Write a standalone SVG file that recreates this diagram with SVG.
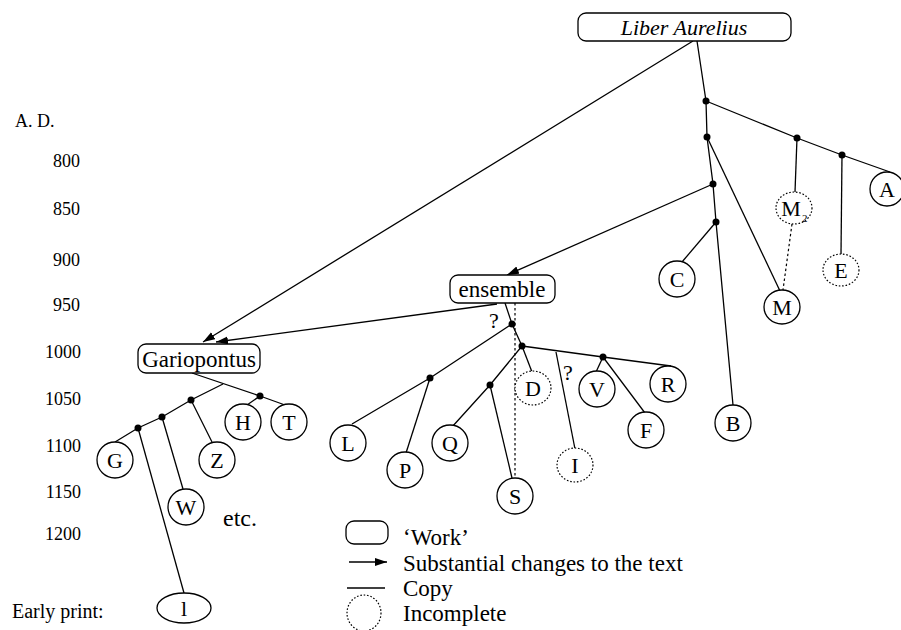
<svg xmlns="http://www.w3.org/2000/svg" width="901" height="630" viewBox="0 0 901 630" font-family="'Liberation Serif', 'DejaVu Serif', serif">
<style>
text{font-family:'Liberation Serif','DejaVu Serif',serif;fill:#000}
.n{font-size:22px;text-anchor:middle}
.ax{font-size:18px;text-anchor:end}
.lg{font-size:23px}
.c{fill:#fff;stroke:#000;stroke-width:1.3}
.d{fill:#fff;stroke:#000;stroke-width:1.2;stroke-dasharray:1.6 1.8}
.w{fill:#fff;stroke:#000;stroke-width:1.3}
.e line,.e polyline{stroke:#000;stroke-width:1.3;fill:none}
.e .dl{stroke-dasharray:2.5 2.5;stroke-width:1.2}
.dot{fill:#000}
</style>
<defs>
<marker id="ah" markerUnits="userSpaceOnUse" markerWidth="13" markerHeight="9" refX="12" refY="4" orient="auto">
<path d="M0,0 L12,4 L0,8 z" fill="#000"/>
</marker>
</defs>
<g id="axis">
<text x="15" y="127" style="font-size:18px">A. D.</text>
<text class="ax" x="80" y="167">800</text>
<text class="ax" x="80" y="215">850</text>
<text class="ax" x="80" y="266">900</text>
<text class="ax" x="80" y="311">950</text>
<text class="ax" x="81" y="358">1000</text>
<text class="ax" x="81" y="405">1050</text>
<text class="ax" x="81" y="452">1100</text>
<text class="ax" x="81" y="498">1150</text>
<text class="ax" x="81" y="540">1200</text>
<text x="12" y="618" style="font-size:20px">Early print:</text>
</g>
<g id="connectors" class="e">
<polyline points="697,41 706,101 707,137 713,184 716,222 733,405"/>
<polyline points="706,101 797,138 842,155 890,172"/>
<line x1="797" y1="138" x2="795" y2="192"/>
<line x1="842" y1="155" x2="841" y2="254"/>
<line x1="707" y1="137" x2="780" y2="291"/>
<line class="dl" x1="792" y1="224" x2="783" y2="290"/>
<line x1="713" y1="184" x2="507" y2="275" marker-end="url(#ah)"/>
<line x1="716" y1="222" x2="682" y2="262"/>
<line x1="693" y1="41" x2="203" y2="342" marker-end="url(#ah)"/>
<line x1="497" y1="304" x2="216" y2="342" marker-end="url(#ah)"/>
<polyline points="505,303 512,324 522,346"/>
<line class="dl" x1="515" y1="303" x2="515" y2="478"/>
<polyline points="512,324 430,378 352,424"/>
<line x1="430" y1="378" x2="406" y2="453"/>
<polyline points="522,346 490,385 452,427"/>
<line x1="490" y1="385" x2="512" y2="478"/>
<line x1="522" y1="346" x2="532" y2="372"/>
<polyline points="522,346 603,357 671,366"/>
<line x1="603" y1="357" x2="596" y2="372"/>
<line x1="603" y1="357" x2="645" y2="413"/>
<line x1="556" y1="352" x2="575" y2="449"/>
<polyline points="192,373 260,396 285,405"/>
<line x1="260" y1="396" x2="247" y2="405"/>
<polyline points="223,384 191,400 162,417 138,428 115,442"/>
<line x1="191" y1="400" x2="212" y2="442"/>
<line x1="162" y1="417" x2="183" y2="489"/>
<line x1="138" y1="428" x2="184" y2="593"/>
<g class="dots">
<circle class="dot" cx="706" cy="101" r="3.5"/>
<circle class="dot" cx="707" cy="137" r="3.5"/>
<circle class="dot" cx="797" cy="138" r="3.5"/>
<circle class="dot" cx="842" cy="155" r="3.5"/>
<circle class="dot" cx="713" cy="184" r="3.5"/>
<circle class="dot" cx="716" cy="222" r="3.5"/>
<circle class="dot" cx="512" cy="324" r="3.5"/>
<circle class="dot" cx="522" cy="346" r="3.5"/>
<circle class="dot" cx="430" cy="378" r="3.5"/>
<circle class="dot" cx="490" cy="385" r="3.5"/>
<circle class="dot" cx="603" cy="357" r="3.5"/>
<circle class="dot" cx="260" cy="396" r="3.5"/>
<circle class="dot" cx="191" cy="400" r="3.5"/>
<circle class="dot" cx="162" cy="417" r="3.5"/>
<circle class="dot" cx="138" cy="428" r="3.5"/>
</g>
</g>
<g id="liber"><rect class="w" x="578" y="13" width="213" height="28" rx="8"/><text class="n" x="684" y="35" style="font-style:italic">Liber Aurelius</text></g>
<g id="ensemble"><rect class="w" x="450" y="275" width="105" height="28" rx="8"/><text class="n" x="502" y="297" style="font-size:23px">ensemble</text></g>
<g id="gariopontus"><rect class="w" x="138" y="344" width="122" height="29" rx="8"/><text class="n" x="199" y="367" style="font-size:23px">Gariopontus</text></g>
<g id="nA"><ellipse class="c" cx="887" cy="189" rx="17" ry="17"/><text class="n" x="887" y="197">A</text></g>
<g id="nM2"><ellipse class="d" cx="794" cy="208" rx="18" ry="16"/><text class="n" x="791" y="216">M</text><text x="802" y="222" style="font-size:11px">2</text></g>
<g id="nE"><ellipse class="d" cx="841" cy="270" rx="18" ry="16"/><text class="n" x="841" y="278">E</text></g>
<g id="nC"><ellipse class="c" cx="677" cy="279" rx="18" ry="18"/><text class="n" x="677" y="287">C</text></g>
<g id="nM"><ellipse class="c" cx="782" cy="307" rx="18" ry="17"/><text class="n" x="782" y="315">M</text></g>
<g id="nB"><ellipse class="c" cx="733" cy="423" rx="18" ry="18"/><text class="n" x="733" y="431">B</text></g>
<g id="nR"><ellipse class="c" cx="668" cy="384" rx="18" ry="18"/><text class="n" x="668" y="392">R</text></g>
<g id="nV"><ellipse class="c" cx="597" cy="389" rx="18" ry="18"/><text class="n" x="597" y="397">V</text></g>
<g id="nF"><ellipse class="c" cx="646" cy="430" rx="18" ry="18"/><text class="n" x="646" y="438">F</text></g>
<g id="nD"><ellipse class="d" cx="533" cy="388" rx="18" ry="17"/><text class="n" x="533" y="396">D</text></g>
<g id="nI"><ellipse class="d" cx="575" cy="465" rx="18" ry="17"/><text class="n" x="575" y="473">I</text></g>
<g id="nL"><ellipse class="c" cx="348" cy="443" rx="18" ry="18"/><text class="n" x="348" y="451">L</text></g>
<g id="nP"><ellipse class="c" cx="405" cy="470" rx="18" ry="18"/><text class="n" x="405" y="478">P</text></g>
<g id="nQ"><ellipse class="c" cx="450" cy="443" rx="18" ry="18"/><text class="n" x="450" y="451">Q</text></g>
<g id="nS"><ellipse class="c" cx="515" cy="496" rx="18" ry="18"/><text class="n" x="515" y="504">S</text></g>
<g id="nG"><ellipse class="c" cx="115" cy="460" rx="18" ry="18"/><text class="n" x="115" y="468">G</text></g>
<g id="nZ"><ellipse class="c" cx="217" cy="460" rx="18" ry="18"/><text class="n" x="217" y="468">Z</text></g>
<g id="nW"><ellipse class="c" cx="186" cy="507" rx="18" ry="18"/><text class="n" x="186" y="515">W</text></g>
<g id="nH"><ellipse class="c" cx="243" cy="422" rx="18" ry="18"/><text class="n" x="243" y="430">H</text></g>
<g id="nT"><ellipse class="c" cx="289" cy="422" rx="18" ry="18"/><text class="n" x="289" y="430">T</text></g>
<g id="nl"><ellipse class="c" cx="184" cy="608" rx="27" ry="15"/><text class="n" x="184" y="616">l</text></g>
<g id="labels">
<text class="n" x="494" y="328">?</text>
<text class="n" x="568" y="380">?</text>
<text x="223" y="526" style="font-size:24px">etc.</text>
</g>
<g id="legend">
<rect class="w" x="346" y="521" width="42" height="23" rx="8"/>
<text class="lg" x="403" y="545">‘Work’</text>
<line x1="349" y1="562" x2="387" y2="562" stroke="#000" stroke-width="1.3" marker-end="url(#ah)"/>
<text class="lg" x="403" y="571">Substantial changes to the text</text>
<line x1="347" y1="588" x2="385" y2="588" stroke="#000" stroke-width="1.3"/>
<text class="lg" x="403" y="596">Copy</text>
<ellipse class="d" cx="364" cy="613" rx="17" ry="18"/>
<text class="lg" x="403" y="621">Incomplete</text>
</g>
</svg>
